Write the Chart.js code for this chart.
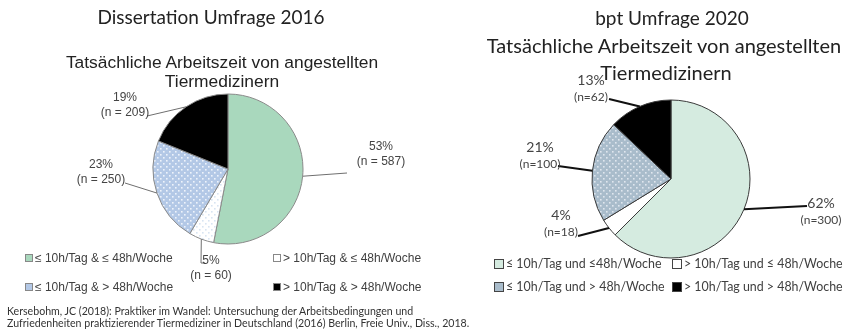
<!DOCTYPE html>
<html>
<head>
<meta charset="utf-8">
<script src="https://cdn.jsdelivr.net/npm/chart.js@4"></script>
<style>
  body { margin: 0; background: #fff; width: 850px; height: 336px; overflow: hidden; position: relative; }
  canvas { position: absolute; top: 0; }
  .txt { position: absolute; white-space: nowrap; transform: translate(-50%, -50%); color: #222; }
  .leg { position: absolute; white-space: nowrap; display: flex; align-items: center; }
  .sw { display: inline-block; box-sizing: border-box; margin-right: 2px; }
  .cite { position: absolute; left: 7px; font-family: Lato, sans-serif; font-size: 10.6px; color: #333; white-space: nowrap; }
</style>
</head>
<body>
<canvas id="pie-2016" width="425" height="336" style="left:0"></canvas>
<canvas id="pie-2020" width="425" height="336" style="left:425px"></canvas>

<div class="txt" style="left:211px;top:16px;font:19px Lato, sans-serif">Dissertation Umfrage 2016</div>
<div class="txt" style="left:222px;top:62px;font:17.4px 'Liberation Sans', Arial, sans-serif">Tatsächliche Arbeitszeit von angestellten</div>
<div class="txt" style="left:222px;top:81px;font:17.4px 'Liberation Sans', Arial, sans-serif">Tiermedizinern</div>

<div class="txt" style="left:672px;top:17px;font:19px Lato, sans-serif">bpt Umfrage 2020</div>
<div class="txt" style="left:664px;top:45px;font:20px Lato, sans-serif">Tatsächliche Arbeitszeit von angestellten</div>
<div class="txt" style="left:666px;top:72px;font:20px Lato, sans-serif">Tiermedizinern</div>

<div id="legend-2016"></div>
<div id="legend-2020"></div>

<div class="cite" style="top:305px">Kersebohm, JC (2018): Praktiker im Wandel: Untersuchung der Arbeitsbedingungen und</div>
<div class="cite" style="top:317px">Zufriedenheiten praktizierender Tiermediziner in Deutschland (2016) Berlin, Freie Univ., Diss., 2018.</div>

<script>
const labels_2016 = ['≤ 10h/Tag & ≤ 48h/Woche', '> 10h/Tag & ≤ 48h/Woche', '≤ 10h/Tag & > 48h/Woche', '> 10h/Tag & > 48h/Woche']
const counts_2016 = [587, 60, 250, 209]
const percent_2016 = [53, 5, 23, 19]

const labels_2020 = ['≤ 10h/Tag und ≤48h/Woche', '> 10h/Tag und ≤ 48h/Woche', '≤ 10h/Tag und > 48h/Woche', '> 10h/Tag und > 48h/Woche']
const counts_2020 = [300, 18, 100, 62]
const percent_2020 = [62, 4, 21, 13]

// dotted fill like the office "small confetti" pattern
function dots(base, dot) {
    const c = document.createElement('canvas')
    c.width = 6
    c.height = 6
    const g = c.getContext('2d')
    g.fillStyle = base
    g.fillRect(0, 0, 6, 6)
    g.fillStyle = dot
    g.fillRect(1, 1, 1.6, 1.6)
    g.fillRect(4, 4, 1.6, 1.6)
    return g.createPattern(c, 'repeat')
}

const fills_2016 = ['#a9d8bd', dots('#ffffff', '#d8e4f2'), dots('#b3c8e6', '#eef3fb'), '#000000']
const fills_2020 = ['#d5ebe0', '#ffffff', dots('#a9bccb', '#dfe7ee'), '#000000']
const swatch_2016 = ['#a9d8bd', '#ffffff', '#b3c8e6', '#000000']
const swatch_2020 = ['#d5ebe0', '#ffffff', '#a9bccb', '#000000']

// where each slice label sits and where its leader line ends
const places_2016 = [
    { x: 381, y: 147, line: [[347, 173]] },
    { x: 211, y: 261, line: [[201, 263], [205, 263]] },
    { x: 101, y: 165, line: [[125, 183]] },
    { x: 125, y: 98, line: [[147, 116]] },
]
const places_2020 = [
    { x: 396, y: 203, line: [[382, 206]] },
    { x: 136, y: 215, line: [[153, 236]] },
    { x: 115, y: 147, line: [[133, 166]] },
    { x: 166, y: 80, line: [[184, 99]] },
]

const leaderLabels = {
    id: 'leaderLabels',
    afterDatasetsDraw: (chart, args, options) => {
        const { ctx } = chart
        const meta = chart.getDatasetMeta(0)
        ctx.save()
        meta.data.forEach((arc, i) => {
            const p = options.places[i]
            const { x, y, startAngle, endAngle, outerRadius } = arc.getProps(['x', 'y', 'startAngle', 'endAngle', 'outerRadius'], true)
            const mid = (startAngle + endAngle) / 2
            ctx.beginPath()
            ctx.moveTo(x + Math.cos(mid) * outerRadius, y + Math.sin(mid) * outerRadius)
            p.line.forEach(([lx, ly]) => ctx.lineTo(lx, ly))
            ctx.strokeStyle = options.lineColor
            ctx.lineWidth = options.lineWidth
            ctx.stroke()

            ctx.fillStyle = options.textColor
            ctx.textAlign = 'center'
            ctx.textBaseline = 'middle'
            ctx.font = options.pctFont
            ctx.fillText(options.percent[i] + '%', p.x, p.y)
            ctx.font = options.nFont
            ctx.fillText(options.nText(options.counts[i]), p.x, p.y + options.gap)
        })
        ctx.restore()
    }
}

function make_pie(canvas, labels, counts, fills, border, radius, padding, labelOpts) {
    return new Chart(canvas, {
        type: 'pie',
        data: {
            labels: labels,
            datasets: [{
                data: counts,
                backgroundColor: fills,
                borderColor: border,
                borderWidth: 1,
                radius: radius,
            }]
        },
        options: {
            responsive: false,
            animation: false,
            layout: { padding: padding },
            plugins: {
                legend: { display: false },
                tooltip: { enabled: false },
                leaderLabels: labelOpts,
            }
        },
        plugins: [leaderLabels],
    })
}

make_pie(document.getElementById('pie-2016'), labels_2016, counts_2016, fills_2016, '#8a8a8a', 75,
    { left: 153, right: 122, top: 94, bottom: 92 },
    {
        places: places_2016, percent: percent_2016, counts: counts_2016,
        nText: n => '(n = ' + n + ')',
        lineColor: '#6f6f6f', lineWidth: 1, textColor: '#444',
        pctFont: '12px "Liberation Sans", Arial, sans-serif',
        nFont: '12px "Liberation Sans", Arial, sans-serif', gap: 15,
    })

make_pie(document.getElementById('pie-2020'), labels_2020, counts_2020, fills_2020, '#3a3a3a', 79,
    { left: 167, right: 100, top: 100, bottom: 78 },
    {
        places: places_2020, percent: percent_2020, counts: counts_2020,
        nText: n => '(n=' + n + ')',
        lineColor: '#111', lineWidth: 2, textColor: '#444',
        pctFont: '14px Lato, sans-serif',
        nFont: '12px Lato, sans-serif', gap: 17,
    })

function build_legend(el, labels, colors, spots, style, box, border) {
    labels.forEach((label, i) => {
        const item = document.createElement('div')
        item.className = 'leg'
        item.style.left = spots[i][0] + 'px'
        item.style.top = spots[i][1] + 'px'
        item.style.font = style
        item.style.color = '#404040'
        const sw = document.createElement('span')
        sw.className = 'sw'
        sw.style.width = box + 'px'
        sw.style.height = box + 'px'
        sw.style.background = colors[i]
        sw.style.border = '1px solid ' + border
        item.appendChild(sw)
        item.appendChild(document.createTextNode(label))
        el.appendChild(item)
    })
}

build_legend(document.getElementById('legend-2016'), labels_2016, swatch_2016,
    [[25, 251], [273, 251], [25, 280], [273, 280]],
    '12px "Liberation Sans", Arial, sans-serif', 8, '#888')
build_legend(document.getElementById('legend-2020'), labels_2020, swatch_2020,
    [[494, 256], [672, 256], [494, 279], [672, 279]],
    '12.4px Lato, sans-serif', 10, '#444')
</script>
</body>
</html>
